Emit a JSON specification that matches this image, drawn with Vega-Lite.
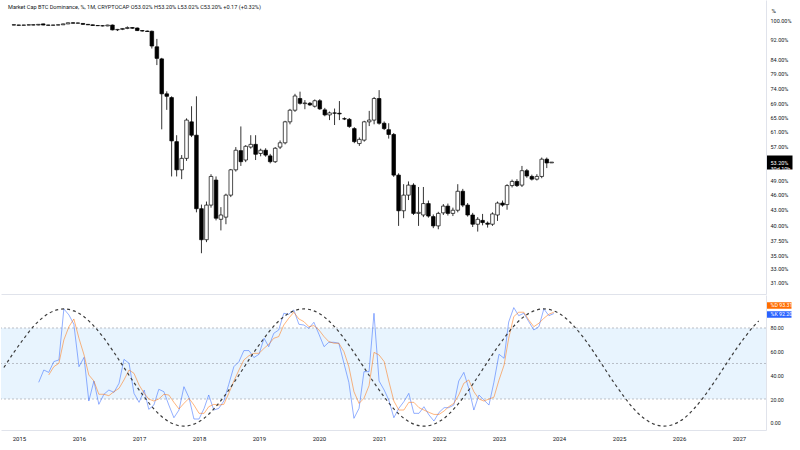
{
  "$schema": "https://vega.github.io/schema/vega-lite/v6.json",
  "padding": 0,
  "background": "white",
  "spacing": 1,
  "config": {"view": {"stroke": null}, "font": "Roboto", "axis": {"labelFont": "Roboto", "titleFont": "Roboto", "labelOverlap": false}},
  "datasets": {
    "candles": [
      {"date":"2014-11-01","open":98.3,"high":98.4,"low":98.1,"close":98.2},
      {"date":"2014-12-01","open":98.2,"high":98.3,"low":98.0,"close":98.1},
      {"date":"2015-01-01","open":98.1,"high":98.3,"low":98.0,"close":98.2},
      {"date":"2015-02-01","open":98.2,"high":98.4,"low":98.1,"close":98.3},
      {"date":"2015-03-01","open":98.3,"high":98.4,"low":98.1,"close":98.2},
      {"date":"2015-04-01","open":98.2,"high":98.6,"low":98.1,"close":98.5},
      {"date":"2015-05-01","open":98.7,"high":98.8,"low":98.1,"close":98.2},
      {"date":"2015-06-01","open":98.2,"high":98.3,"low":98.0,"close":98.1},
      {"date":"2015-07-01","open":98.1,"high":98.3,"low":98.0,"close":98.2},
      {"date":"2015-08-01","open":98.2,"high":98.4,"low":98.1,"close":98.3},
      {"date":"2015-09-01","open":98.3,"high":98.8,"low":98.2,"close":98.7},
      {"date":"2015-10-01","open":98.7,"high":99.3,"low":98.6,"close":99.2},
      {"date":"2015-11-01","open":99.2,"high":99.4,"low":98.9,"close":99.0},
      {"date":"2015-12-01","open":99.0,"high":99.3,"low":98.8,"close":99.1},
      {"date":"2016-01-01","open":98.9,"high":99.0,"low":98.3,"close":98.5},
      {"date":"2016-02-01","open":98.5,"high":98.6,"low":98.2,"close":98.3},
      {"date":"2016-03-01","open":98.3,"high":98.4,"low":97.9,"close":98.0},
      {"date":"2016-04-01","open":98.0,"high":98.2,"low":97.8,"close":97.9},
      {"date":"2016-05-01","open":97.9,"high":98.1,"low":97.6,"close":97.8},
      {"date":"2016-06-01","open":97.8,"high":98.3,"low":97.7,"close":98.2},
      {"date":"2016-07-01","open":98.2,"high":98.4,"low":95.9,"close":96.1},
      {"date":"2016-08-01","open":96.1,"high":96.5,"low":95.6,"close":96.3},
      {"date":"2016-09-01","open":96.3,"high":96.9,"low":96.0,"close":96.7},
      {"date":"2016-10-01","open":96.7,"high":97.6,"low":96.4,"close":97.1},
      {"date":"2016-11-01","open":97.1,"high":97.2,"low":96.6,"close":96.8},
      {"date":"2016-12-01","open":96.9,"high":97.1,"low":95.6,"close":95.8},
      {"date":"2017-01-01","open":95.8,"high":96.0,"low":95.4,"close":95.6},
      {"date":"2017-02-01","open":95.6,"high":95.8,"low":95.2,"close":95.4},
      {"date":"2017-03-01","open":95.5,"high":95.8,"low":88.4,"close":89.4},
      {"date":"2017-04-01","open":89.1,"high":92.3,"low":82.1,"close":84.6},
      {"date":"2017-05-01","open":84.4,"high":84.8,"low":61.6,"close":72.2},
      {"date":"2017-06-01","open":72.2,"high":73.0,"low":67.2,"close":71.4},
      {"date":"2017-07-01","open":71.0,"high":71.4,"low":49.9,"close":58.5},
      {"date":"2017-08-01","open":58.3,"high":60.0,"low":49.9,"close":51.4},
      {"date":"2017-09-01","open":51.4,"high":54.9,"low":49.3,"close":54.1},
      {"date":"2017-10-01","open":54.1,"high":64.7,"low":53.5,"close":64.2},
      {"date":"2017-11-01","open":63.7,"high":68.3,"low":59.5,"close":60.0},
      {"date":"2017-12-01","open":60.0,"high":71.4,"low":42.5,"close":43.2},
      {"date":"2018-01-01","open":43.2,"high":44.0,"low":35.4,"close":37.6},
      {"date":"2018-02-01","open":37.6,"high":44.6,"low":37.2,"close":43.9},
      {"date":"2018-03-01","open":43.9,"high":50.4,"low":43.4,"close":49.9},
      {"date":"2018-04-01","open":49.1,"high":49.9,"low":41.0,"close":41.4},
      {"date":"2018-05-01","open":41.2,"high":43.5,"low":39.2,"close":42.0},
      {"date":"2018-06-01","open":41.6,"high":46.2,"low":40.3,"close":45.9},
      {"date":"2018-07-01","open":45.9,"high":51.6,"low":45.5,"close":51.4},
      {"date":"2018-08-01","open":51.4,"high":56.9,"low":51.0,"close":56.1},
      {"date":"2018-09-01","open":56.0,"high":62.4,"low":52.3,"close":53.3},
      {"date":"2018-10-01","open":53.7,"high":57.4,"low":53.2,"close":57.1},
      {"date":"2018-11-01","open":56.9,"high":60.0,"low":56.5,"close":57.6},
      {"date":"2018-12-01","open":57.6,"high":60.0,"low":53.7,"close":55.1},
      {"date":"2019-01-01","open":55.3,"high":56.5,"low":54.6,"close":56.1},
      {"date":"2019-02-01","open":56.1,"high":56.6,"low":54.5,"close":54.9},
      {"date":"2019-03-01","open":54.7,"high":55.2,"low":52.9,"close":53.3},
      {"date":"2019-04-01","open":53.3,"high":56.9,"low":53.0,"close":56.6},
      {"date":"2019-05-01","open":56.9,"high":58.6,"low":56.4,"close":58.0},
      {"date":"2019-06-01","open":58.0,"high":64.0,"low":57.6,"close":63.7},
      {"date":"2019-07-01","open":63.7,"high":67.5,"low":63.0,"close":67.1},
      {"date":"2019-08-01","open":67.1,"high":72.2,"low":66.6,"close":71.5},
      {"date":"2019-09-01","open":70.7,"high":72.9,"low":68.8,"close":69.2},
      {"date":"2019-10-01","open":69.1,"high":70.2,"low":67.4,"close":69.3},
      {"date":"2019-11-01","open":69.2,"high":69.6,"low":68.4,"close":68.7},
      {"date":"2019-12-01","open":68.3,"high":70.4,"low":67.9,"close":70.0},
      {"date":"2020-01-01","open":70.0,"high":70.5,"low":67.2,"close":67.5},
      {"date":"2020-02-01","open":67.2,"high":67.8,"low":65.3,"close":65.7},
      {"date":"2020-03-01","open":65.7,"high":66.7,"low":64.2,"close":66.3},
      {"date":"2020-04-01","open":66.3,"high":67.6,"low":62.8,"close":66.2},
      {"date":"2020-05-01","open":66.2,"high":69.9,"low":64.2,"close":66.0},
      {"date":"2020-06-01","open":64.6,"high":65.0,"low":64.2,"close":64.5},
      {"date":"2020-07-01","open":64.4,"high":64.8,"low":62.0,"close":62.4},
      {"date":"2020-08-01","open":61.8,"high":62.2,"low":57.9,"close":58.3},
      {"date":"2020-09-01","open":57.8,"high":59.4,"low":57.2,"close":58.9},
      {"date":"2020-10-01","open":58.7,"high":64.0,"low":58.3,"close":63.7},
      {"date":"2020-11-01","open":63.7,"high":66.9,"low":62.5,"close":64.2},
      {"date":"2020-12-01","open":64.2,"high":71.2,"low":63.0,"close":70.7},
      {"date":"2021-01-01","open":70.7,"high":73.4,"low":62.9,"close":63.3},
      {"date":"2021-02-01","open":63.3,"high":63.8,"low":61.4,"close":61.8},
      {"date":"2021-03-01","open":61.5,"high":63.3,"low":59.1,"close":60.2},
      {"date":"2021-04-01","open":60.2,"high":60.6,"low":49.8,"close":50.2},
      {"date":"2021-05-01","open":50.2,"high":50.6,"low":40.0,"close":42.8},
      {"date":"2021-06-01","open":42.8,"high":48.2,"low":41.4,"close":45.9},
      {"date":"2021-07-01","open":45.9,"high":48.8,"low":44.9,"close":48.0},
      {"date":"2021-08-01","open":48.0,"high":48.4,"low":42.0,"close":42.3},
      {"date":"2021-09-01","open":42.3,"high":47.6,"low":40.0,"close":42.5},
      {"date":"2021-10-01","open":42.0,"high":47.6,"low":41.6,"close":44.2},
      {"date":"2021-11-01","open":44.2,"high":44.8,"low":41.5,"close":41.8},
      {"date":"2021-12-01","open":41.7,"high":42.1,"low":39.6,"close":40.0},
      {"date":"2022-01-01","open":40.0,"high":42.6,"low":39.4,"close":42.3},
      {"date":"2022-02-01","open":42.4,"high":44.1,"low":42.0,"close":43.7},
      {"date":"2022-03-01","open":43.7,"high":44.2,"low":41.9,"close":42.3},
      {"date":"2022-04-01","open":42.3,"high":43.4,"low":41.8,"close":42.9},
      {"date":"2022-05-01","open":42.9,"high":48.2,"low":42.5,"close":46.7},
      {"date":"2022-06-01","open":46.7,"high":47.2,"low":43.5,"close":43.9},
      {"date":"2022-07-01","open":43.9,"high":44.3,"low":41.7,"close":42.0},
      {"date":"2022-08-01","open":42.0,"high":42.4,"low":39.8,"close":40.3},
      {"date":"2022-09-01","open":40.3,"high":41.6,"low":39.0,"close":41.2},
      {"date":"2022-10-01","open":41.0,"high":42.2,"low":40.1,"close":40.6},
      {"date":"2022-11-01","open":40.5,"high":40.8,"low":39.7,"close":40.3},
      {"date":"2022-12-01","open":40.3,"high":42.5,"low":40.0,"close":42.2},
      {"date":"2023-01-01","open":42.0,"high":44.6,"low":40.9,"close":44.3},
      {"date":"2023-02-01","open":44.3,"high":44.8,"low":43.6,"close":43.9},
      {"date":"2023-03-01","open":44.0,"high":48.2,"low":43.0,"close":47.9},
      {"date":"2023-04-01","open":47.9,"high":49.2,"low":47.5,"close":48.8},
      {"date":"2023-05-01","open":48.8,"high":49.3,"low":47.6,"close":47.9},
      {"date":"2023-06-01","open":48.0,"high":52.3,"low":47.6,"close":51.2},
      {"date":"2023-07-01","open":51.2,"high":51.6,"low":49.6,"close":50.0},
      {"date":"2023-08-01","open":49.9,"high":50.3,"low":49.0,"close":49.3},
      {"date":"2023-09-01","open":49.3,"high":50.4,"low":49.0,"close":49.9},
      {"date":"2023-10-01","open":49.9,"high":54.3,"low":49.5,"close":53.9},
      {"date":"2023-11-01","open":53.9,"high":54.3,"low":51.8,"close":53.0},
      {"date":"2023-12-01","open":53.02,"high":53.2,"low":53.02,"close":53.2}
    ],
    "stoch": [
      {"date":"2015-05-01","k":34.1,"d":null},
      {"date":"2015-06-01","k":44.5,"d":null},
      {"date":"2015-07-01","k":42.5,"d":40.3},
      {"date":"2015-08-01","k":51.6,"d":47.3},
      {"date":"2015-09-01","k":53.0,"d":50.2},
      {"date":"2015-10-01","k":96.1,"d":69.9},
      {"date":"2015-11-01","k":91.0,"d":81.1},
      {"date":"2015-12-01","k":83.1,"d":87.6},
      {"date":"2016-01-01","k":47.3,"d":71.3},
      {"date":"2016-02-01","k":55.2,"d":57.2},
      {"date":"2016-03-01","k":18.3,"d":40.3},
      {"date":"2016-04-01","k":35.2,"d":35.2},
      {"date":"2016-05-01","k":15.5,"d":24.0},
      {"date":"2016-06-01","k":24.0,"d":24.0},
      {"date":"2016-07-01","k":27.6,"d":22.8},
      {"date":"2016-08-01","k":25.6,"d":26.2},
      {"date":"2016-09-01","k":33.3,"d":29.0},
      {"date":"2016-10-01","k":53.5,"d":36.1},
      {"date":"2016-11-01","k":50.2,"d":44.5},
      {"date":"2016-12-01","k":24.8,"d":41.7},
      {"date":"2017-01-01","k":17.2,"d":31.8},
      {"date":"2017-02-01","k":27.6,"d":24.8},
      {"date":"2017-03-01","k":11.3,"d":20.0},
      {"date":"2017-04-01","k":14.9,"d":18.3},
      {"date":"2017-05-01","k":28.2,"d":20.0},
      {"date":"2017-06-01","k":26.2,"d":24.0},
      {"date":"2017-07-01","k":14.9,"d":23.4},
      {"date":"2017-08-01","k":4.2,"d":17.2},
      {"date":"2017-09-01","k":10.7,"d":11.6},
      {"date":"2017-10-01","k":30.4,"d":16.3},
      {"date":"2017-11-01","k":21.1,"d":20.6},
      {"date":"2017-12-01","k":3.1,"d":14.9},
      {"date":"2018-01-01","k":3.1,"d":7.9},
      {"date":"2018-02-01","k":12.1,"d":7.9},
      {"date":"2018-03-01","k":23.4,"d":13.5},
      {"date":"2018-04-01","k":10.7,"d":15.5},
      {"date":"2018-05-01","k":12.1,"d":14.9},
      {"date":"2018-06-01","k":18.3,"d":15.5},
      {"date":"2018-07-01","k":32.4,"d":24.8},
      {"date":"2018-08-01","k":47.3,"d":35.2},
      {"date":"2018-09-01","k":51.6,"d":44.5},
      {"date":"2018-10-01","k":60.9,"d":53.0},
      {"date":"2018-11-01","k":60.9,"d":56.6},
      {"date":"2018-12-01","k":55.0,"d":58.6},
      {"date":"2019-01-01","k":57.8,"d":58.6},
      {"date":"2019-02-01","k":71.3,"d":62.8},
      {"date":"2019-03-01","k":64.2,"d":66.2},
      {"date":"2019-04-01","k":75.5,"d":71.3},
      {"date":"2019-05-01","k":78.3,"d":72.7},
      {"date":"2019-06-01","k":92.4,"d":82.5},
      {"date":"2019-07-01","k":91.6,"d":88.2},
      {"date":"2019-08-01","k":95.2,"d":93.3},
      {"date":"2019-09-01","k":83.1,"d":87.6},
      {"date":"2019-10-01","k":82.5,"d":85.4},
      {"date":"2019-11-01","k":79.7,"d":81.1},
      {"date":"2019-12-01","k":84.8,"d":82.0},
      {"date":"2020-01-01","k":74.7,"d":78.3},
      {"date":"2020-02-01","k":64.2,"d":72.7},
      {"date":"2020-03-01","k":67.9,"d":68.5},
      {"date":"2020-04-01","k":67.9,"d":67.1},
      {"date":"2020-05-01","k":67.1,"d":67.1},
      {"date":"2020-06-01","k":50.2,"d":60.0},
      {"date":"2020-07-01","k":34.1,"d":47.3},
      {"date":"2020-08-01","k":3.7,"d":26.2},
      {"date":"2020-09-01","k":12.1,"d":16.3},
      {"date":"2020-10-01","k":43.1,"d":20.6},
      {"date":"2020-11-01","k":43.1,"d":31.3},
      {"date":"2020-12-01","k":92.4,"d":59.4},
      {"date":"2021-01-01","k":35.2,"d":57.2},
      {"date":"2021-02-01","k":27.6,"d":51.6},
      {"date":"2021-03-01","k":19.2,"d":35.2},
      {"date":"2021-04-01","k":4.2,"d":18.3},
      {"date":"2021-05-01","k":12.1,"d":10.7},
      {"date":"2021-06-01","k":17.8,"d":10.7},
      {"date":"2021-07-01","k":24.8,"d":17.2},
      {"date":"2021-08-01","k":7.9,"d":17.2},
      {"date":"2021-09-01","k":7.9,"d":12.7},
      {"date":"2021-10-01","k":13.5,"d":10.7},
      {"date":"2021-11-01","k":6.5,"d":8.7},
      {"date":"2021-12-01","k":1.4,"d":7.0},
      {"date":"2022-01-01","k":8.7,"d":7.0},
      {"date":"2022-02-01","k":12.7,"d":9.9},
      {"date":"2022-03-01","k":12.7,"d":13.5},
      {"date":"2022-04-01","k":14.9,"d":16.3},
      {"date":"2022-05-01","k":35.2,"d":23.4},
      {"date":"2022-06-01","k":42.5,"d":33.3},
      {"date":"2022-07-01","k":29.0,"d":36.1},
      {"date":"2022-08-01","k":10.7,"d":26.2},
      {"date":"2022-09-01","k":23.4,"d":20.0},
      {"date":"2022-10-01","k":19.2,"d":18.3},
      {"date":"2022-11-01","k":14.9,"d":20.0},
      {"date":"2022-12-01","k":34.1,"d":21.5},
      {"date":"2023-01-01","k":57.8,"d":36.0},
      {"date":"2023-02-01","k":54.4,"d":48.7},
      {"date":"2023-03-01","k":85.0,"d":71.3},
      {"date":"2023-04-01","k":97.2,"d":89.6},
      {"date":"2023-05-01","k":90.4,"d":93.3},
      {"date":"2023-06-01","k":92.4,"d":93.3},
      {"date":"2023-07-01","k":85.4,"d":86.8},
      {"date":"2023-08-01","k":78.3,"d":81.1},
      {"date":"2023-09-01","k":81.1,"d":84.0},
      {"date":"2023-10-01","k":96.1,"d":88.2},
      {"date":"2023-11-01","k":90.4,"d":91.6},
      {"date":"2023-12-01","k":92.2,"d":93.31}
    ],
    "cycle": [
      {"date":"2014-10-01","val":46.6},{"date":"2014-12-01","val":59.41},
      {"date":"2015-02-01","val":71.35},{"date":"2015-04-01","val":81.6},{"date":"2015-06-01","val":89.47},{"date":"2015-08-01","val":94.41},{"date":"2015-10-01","val":96.1},{"date":"2015-12-01","val":94.41},
      {"date":"2016-02-01","val":89.47},{"date":"2016-04-01","val":81.6},{"date":"2016-06-01","val":71.35},{"date":"2016-08-01","val":59.41},{"date":"2016-10-01","val":46.6},{"date":"2016-12-01","val":33.79},
      {"date":"2017-02-01","val":21.85},{"date":"2017-04-01","val":11.6},{"date":"2017-06-01","val":3.73},{"date":"2017-08-01","val":-1.21},{"date":"2017-10-01","val":-2.9},{"date":"2017-12-01","val":-1.21},
      {"date":"2018-02-01","val":3.73},{"date":"2018-04-01","val":11.6},{"date":"2018-06-01","val":21.85},{"date":"2018-08-01","val":33.79},{"date":"2018-10-01","val":46.6},{"date":"2018-12-01","val":59.41},
      {"date":"2019-02-01","val":71.35},{"date":"2019-04-01","val":81.6},{"date":"2019-06-01","val":89.47},{"date":"2019-08-01","val":94.41},{"date":"2019-10-01","val":96.1},{"date":"2019-12-01","val":94.41},
      {"date":"2020-02-01","val":89.47},{"date":"2020-04-01","val":81.6},{"date":"2020-06-01","val":71.35},{"date":"2020-08-01","val":59.41},{"date":"2020-10-01","val":46.6},{"date":"2020-12-01","val":33.79},
      {"date":"2021-02-01","val":21.85},{"date":"2021-04-01","val":11.6},{"date":"2021-06-01","val":3.73},{"date":"2021-08-01","val":-1.21},{"date":"2021-10-01","val":-2.9},{"date":"2021-12-01","val":-1.21},
      {"date":"2022-02-01","val":3.73},{"date":"2022-04-01","val":11.6},{"date":"2022-06-01","val":21.85},{"date":"2022-08-01","val":33.79},{"date":"2022-10-01","val":46.6},{"date":"2022-12-01","val":59.41},
      {"date":"2023-02-01","val":71.35},{"date":"2023-04-01","val":81.6},{"date":"2023-06-01","val":89.47},{"date":"2023-08-01","val":94.41},{"date":"2023-10-01","val":96.1},{"date":"2023-12-01","val":94.41},
      {"date":"2024-02-01","val":89.47},{"date":"2024-04-01","val":81.6},{"date":"2024-06-01","val":71.35},{"date":"2024-08-01","val":59.41},{"date":"2024-10-01","val":46.6},{"date":"2024-12-01","val":33.79},
      {"date":"2025-02-01","val":21.85},{"date":"2025-04-01","val":11.6},{"date":"2025-06-01","val":3.73},{"date":"2025-08-01","val":-1.21},{"date":"2025-10-01","val":-2.9},{"date":"2025-12-01","val":-1.21},
      {"date":"2026-02-01","val":3.73},{"date":"2026-04-01","val":11.6},{"date":"2026-06-01","val":21.85},{"date":"2026-08-01","val":33.79},{"date":"2026-10-01","val":46.6},{"date":"2026-12-01","val":59.41},
      {"date":"2027-02-01","val":71.35},{"date":"2027-04-01","val":81.6},{"date":"2027-05-01","val":85.87}
    ],
    "band": [{"val": 80, "lower": 20}],
    "levels": [{"val": 80}, {"val": 50}, {"val": 20}]
  },
  "vconcat": [
    {
      "width": 765,
      "height": 294,
      "title": {"text": "Market Cap BTC Dominance, %, 1M, CRYPTOCAP   O53.02%   H53.20%   L53.02%   C53.20%   +0.17 (+0.32%)", "anchor": "start", "orient": "top", "offset": -11, "fontSize": 5.6, "fontWeight": "normal", "color": "#131722", "font": "Roboto", "dx": 7},
      "data": {"name": "candles"},
      "layer": [
        {
          "mark": {"type": "rule", "color": "#000000", "strokeWidth": 0.8},
          "encoding": {
            "x": {"field": "date", "type": "temporal",
              "scale": {"type": "utc", "domain": [{"year": 2014, "month": 9, "date": 13, "hours": 10, "utc": true}, {"year": 2027, "month": 6, "date": 14, "hours": 10, "utc": true}]},
              "axis": {"title": null, "labels": false, "ticks": false, "grid": false, "domain": true, "domainColor": "#e0e3eb"}},
            "y": {"field": "low", "type": "quantitative",
              "scale": {"type": "log", "domain": [29.5, 109.83], "nice": false, "zero": false},
              "axis": {
                "orient": "right", "grid": false, "domain": true, "domainColor": "#e0e3eb",
                "title": "%", "titleAngle": 0, "titleAlign": "left", "titleBaseline": "middle", "titleX": 5, "titleY": 10, "titleFontSize": 6, "titleFontWeight": "normal", "titleColor": "#131722",
                "values": [31, 33, 35, 37.5, 40, 43, 46, 49, 53.2, 57, 61, 65, 69, 74, 79, 84, 92, 100],
                "labelExpr": "datum.value == 53.2 ? ['53.20%', '30d 10h'] : format(datum.value, '.2f') + '%'",
                "labelFontSize": 5.5, "labelLineHeight": 6,
                "labelColor": {"condition": {"test": "datum.value == 53.2", "value": "#ffffff"}, "value": "#131722"},
                "labelAlign": "left", "labelBaseline": "middle", "labelPadding": -22,
                "labelOverlap": false, "labelBound": false, "labelFlush": false,
                "ticks": true, "tickSize": 26,
                "tickWidth": {"condition": {"test": "datum.value == 53.2", "value": 14}, "value": 0},
                "tickColor": {"condition": {"test": "datum.value == 53.2", "value": "#000000"}, "value": "transparent"}
              }},
            "y2": {"field": "high"}
          }
        },
        {
          "mark": {"type": "bar", "size": 3.6, "stroke": "#000000", "strokeWidth": 0.7},
          "encoding": {
            "x": {"field": "date", "type": "temporal"},
            "y": {"field": "open", "type": "quantitative"},
            "y2": {"field": "close"},
            "fill": {"condition": {"test": "datum.close >= datum.open", "value": "#ffffff"}, "value": "#000000"}
          }
        }
      ]
    },
    {
      "width": 765,
      "height": 135,
      "encoding": {
        "y": {"field": "val", "type": "quantitative",
          "scale": {"domain": [-6.17, 107.85], "nice": false, "zero": false},
          "axis": {
            "orient": "right", "title": null, "grid": false, "domain": true, "domainColor": "#e0e3eb",
            "values": [0, 20, 40, 60, 80, 92.2, 99.6],
            "labelExpr": "datum.value == 99.6 ? '%D     93.31' : datum.value == 92.2 ? '%K     92.20' : format(datum.value, '.2f')",
            "labelFontSize": 5.3,
            "labelColor": {"condition": {"test": "datum.value > 90", "value": "#ffffff"}, "value": "#131722"},
            "labelAlign": "left", "labelBaseline": "middle", "labelPadding": -21,
            "labelOverlap": false, "labelSeparation": 0, "labelBound": false, "labelFlush": false,
            "ticks": true, "tickSize": 25,
            "tickWidth": {"condition": {"test": "datum.value > 90", "value": 6.5}, "value": 0},
            "tickColor": {"condition": [{"test": "datum.value == 99.6", "value": "#ff6d00"}, {"test": "datum.value == 92.2", "value": "#2962ff"}], "value": "transparent"}
          }}
      },
      "layer": [
        {
          "data": {"name": "band"},
          "mark": {"type": "rect", "color": "#2196f3", "opacity": 0.1},
          "encoding": {"y2": {"field": "lower"}}
        },
        {
          "data": {"name": "levels"},
          "mark": {"type": "rule", "color": "#a3a6af", "strokeWidth": 0.7, "strokeDash": [2, 2]}, "encoding": {}
        },
        {
          "data": {"name": "stoch"},
          "transform": [{"fold": ["k", "d"], "as": ["series", "val"]}],
          "mark": {"type": "line", "opacity": 0.5, "strokeWidth": 1},
          "encoding": {
            "x": {"field": "date", "type": "temporal",
              "scale": {"type": "utc", "domain": [{"year": 2014, "month": 9, "date": 13, "hours": 10, "utc": true}, {"year": 2027, "month": 6, "date": 14, "hours": 10, "utc": true}]},
              "axis": {"title": null, "format": "%Y", "tickCount": {"interval": "year", "step": 1}, "labelFontSize": 6, "labelColor": "#131722", "ticks": false, "grid": false, "domainColor": "#e0e3eb", "labelPadding": 5, "labelFlush": false, "labelOverlap": false}},
            "color": {"field": "series", "type": "nominal", "scale": {"domain": ["k", "d"], "range": ["#2962ff", "#ff6d00"]}, "legend": null}
          }
        },
        {
          "data": {"name": "cycle"},
          "mark": {"type": "line", "color": "#3c3c3c", "strokeWidth": 1.2, "strokeDash": [3, 3], "interpolate": "monotone"},
          "encoding": {"x": {"field": "date", "type": "temporal"}}
        }
      ]
    }
  ]
}
